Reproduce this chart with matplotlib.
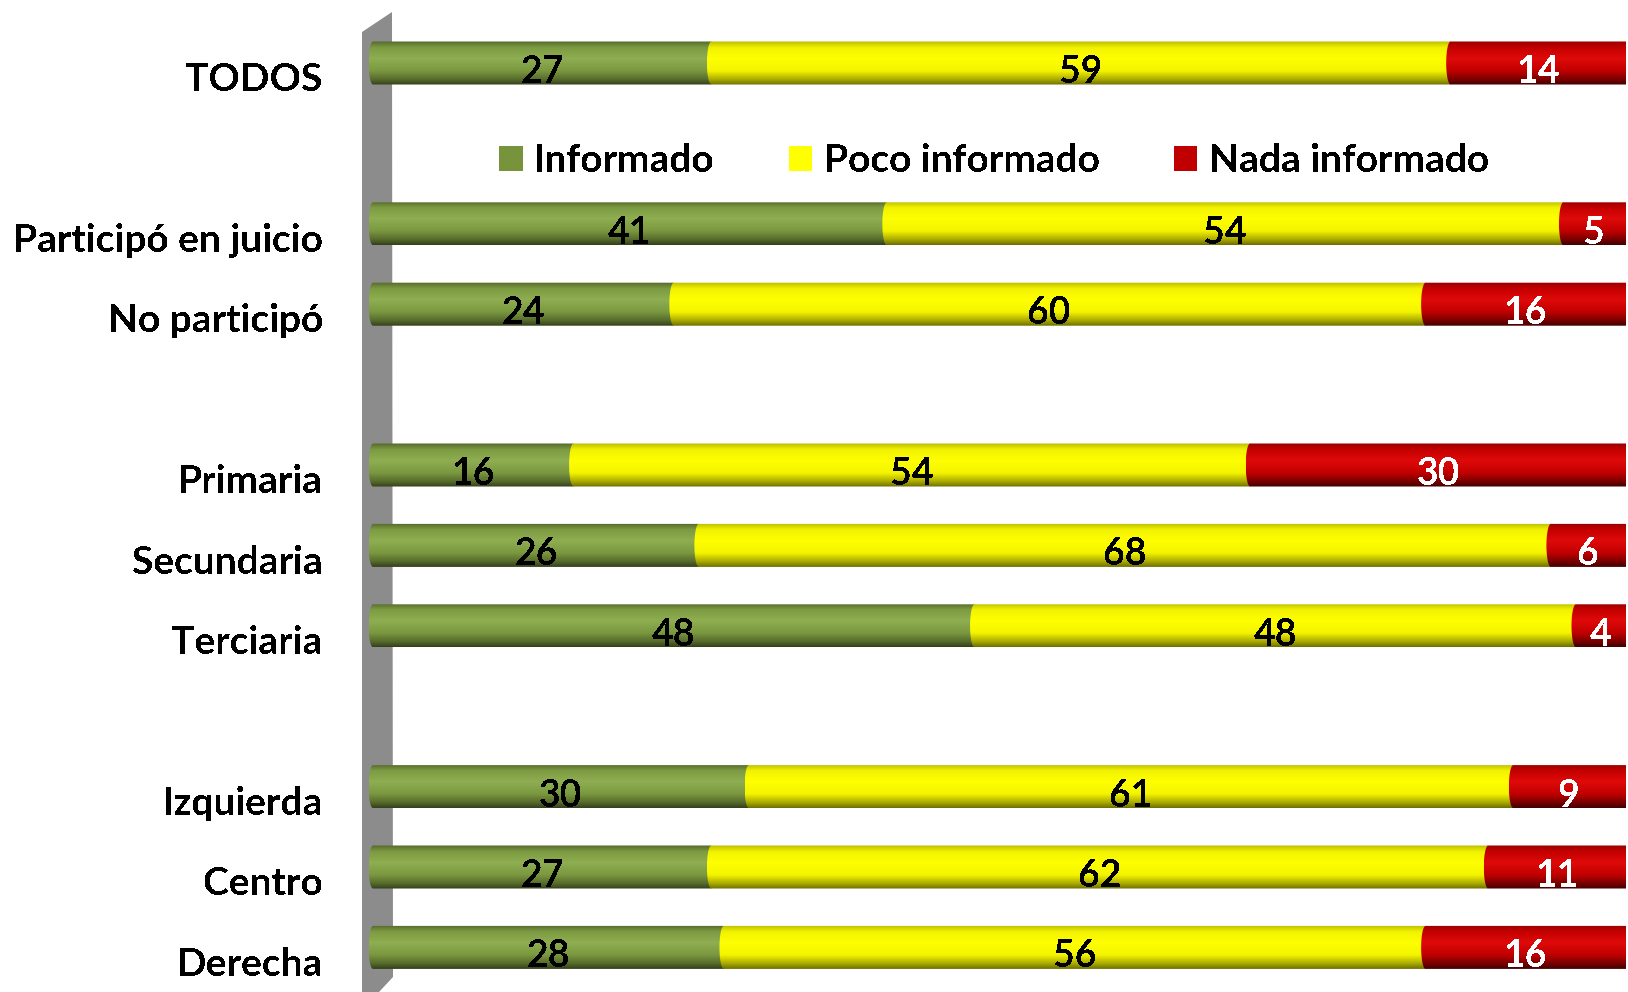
import numpy as np
import matplotlib
matplotlib.use('Agg')
import matplotlib.pyplot as plt
from matplotlib.colors import LinearSegmentedColormap
from matplotlib.path import Path
from matplotlib.patches import PathPatch, Polygon, Patch

plt.rcParams['font.family'] = ['Lato', 'DejaVu Sans']
plt.rcParams['font.weight'] = 'bold'
plt.rcParams['text.antialiased'] = False

# datos
grupos = [
    ['TODOS'],
    ['Participó en juicio', 'No participó'],
    ['Primaria', 'Secundaria', 'Terciaria'],
    ['Izquierda', 'Centro', 'Derecha'],
]
informado = [27, 41, 24, 16, 26, 48, 30, 27, 28]
poco_informado = [59, 54, 60, 54, 68, 48, 61, 62, 56]
nada_informado = [14, 5, 16, 30, 6, 4, 9, 11, 16]
series = ['Informado', 'Poco informado', 'Nada informado']

# estilo
base = ['#77933c', '#ffff00', '#c00000']
degradados = [
    ['#55682c', '#7d9c42', '#8fae52', '#7a983f', '#56692c', '#33401a'],
    ['#bcbc00', '#f2f200', '#ffff00', '#f4f400', '#a8a800', '#6e6e00'],
    ['#980000', '#c40000', '#e00a0a', '#c00000', '#760000', '#420000'],
]
paradas = [0.0, 0.15, 0.4, 0.68, 0.88, 1.0]
color_txt = ['black', 'black', 'white']

W, H = 1628, 992
fig = plt.figure(figsize=(W / 100, H / 100), dpi=100)

px_unit = 12.53         # pixeles por punto porcentual
x0_px = 373             # donde cae el 0
slot_px = 80.4
y0_px = 63
xlim = (-1.0, 100.2)
ax_left = x0_px + xlim[0] * px_unit
ax_w = (xlim[1] - xlim[0]) * px_unit
ax = fig.add_axes([ax_left / W, 0, ax_w / W, 1])
ax.set_xlim(*xlim)
ax.set_ylim((H - y0_px) / slot_px, -y0_px / slot_px)
ax.axis('off')
ax.patch.set_visible(False)

# pared gris de fondo
pared = [(362, 992), (362, 32), (392, 12), (393, 977), (379, 992)]
fig.add_artist(Polygon([(x / W, 1 - y / H) for x, y in pared], closed=True,
                       facecolor='#8c8c8c', edgecolor='none',
                       transform=fig.transFigure, zorder=-1))

# posiciones con un hueco entre grupos
etiquetas = []
pos = []
p = 0
for g in grupos:
    for c in g:
        etiquetas.append(c)
        pos.append(p)
        p += 1
    p += 1

alto = 0.535
a = 0.35  # media anchura de la tapa eliptica
cmaps = [LinearSegmentedColormap.from_list('g%d' % k, list(zip(paradas, d)))
         for k, d in enumerate(degradados)]
grad = np.linspace(0, 1, 200).reshape(-1, 1)


def segmento(x1, x2, y, cmap):
    top, bot = y - alto / 2, y + alto / 2
    t = np.linspace(np.pi / 2, 3 * np.pi / 2, 40)
    verts = [(x1, top), (x2, top), (x2, bot), (x1, bot)]
    # tapa izquierda (media elipse)
    for tt in t[::-1]:
        verts.append((x1 + a * np.cos(tt), y - (alto / 2) * np.sin(tt)))
    verts.append((x1, top))
    pp = PathPatch(Path(verts), facecolor='none', edgecolor='none', transform=ax.transData)
    ax.add_patch(pp)
    im = ax.imshow(grad, cmap=cmap, aspect='auto', extent=(x1 - a, x2, bot, top),
                   origin='upper', interpolation='bilinear', zorder=2)
    im.set_clip_path(pp)


valores = [informado, poco_informado, nada_informado]
for i, y in enumerate(pos):
    izq = 0
    for k in range(3):
        v = valores[k][i]
        segmento(izq, izq + v, y, cmaps[k])
        ax.annotate(str(v), xy=(izq + v / 2, y), xytext=(0, -6.5),
                    textcoords='offset points', ha='center', va='center',
                    fontsize=27, color=color_txt[k], zorder=5)
        izq += v
    ax.annotate(etiquetas[i], xy=(0, y), xycoords=('axes fraction', 'data'),
                xytext=(-27, -12), textcoords='offset points',
                ha='right', va='center', fontsize=28, color='black')

handles = [Patch(facecolor=base[k], edgecolor='none') for k in range(3)]
fig.legend(handles, series, loc='center', bbox_to_anchor=(994 / W, 1 - 161 / H),
           ncol=3, frameon=False, fontsize=28, handlelength=0.6, handleheight=0.6,
           handletextpad=0.3, columnspacing=1.9)

fig.savefig('out.png', dpi=100)
